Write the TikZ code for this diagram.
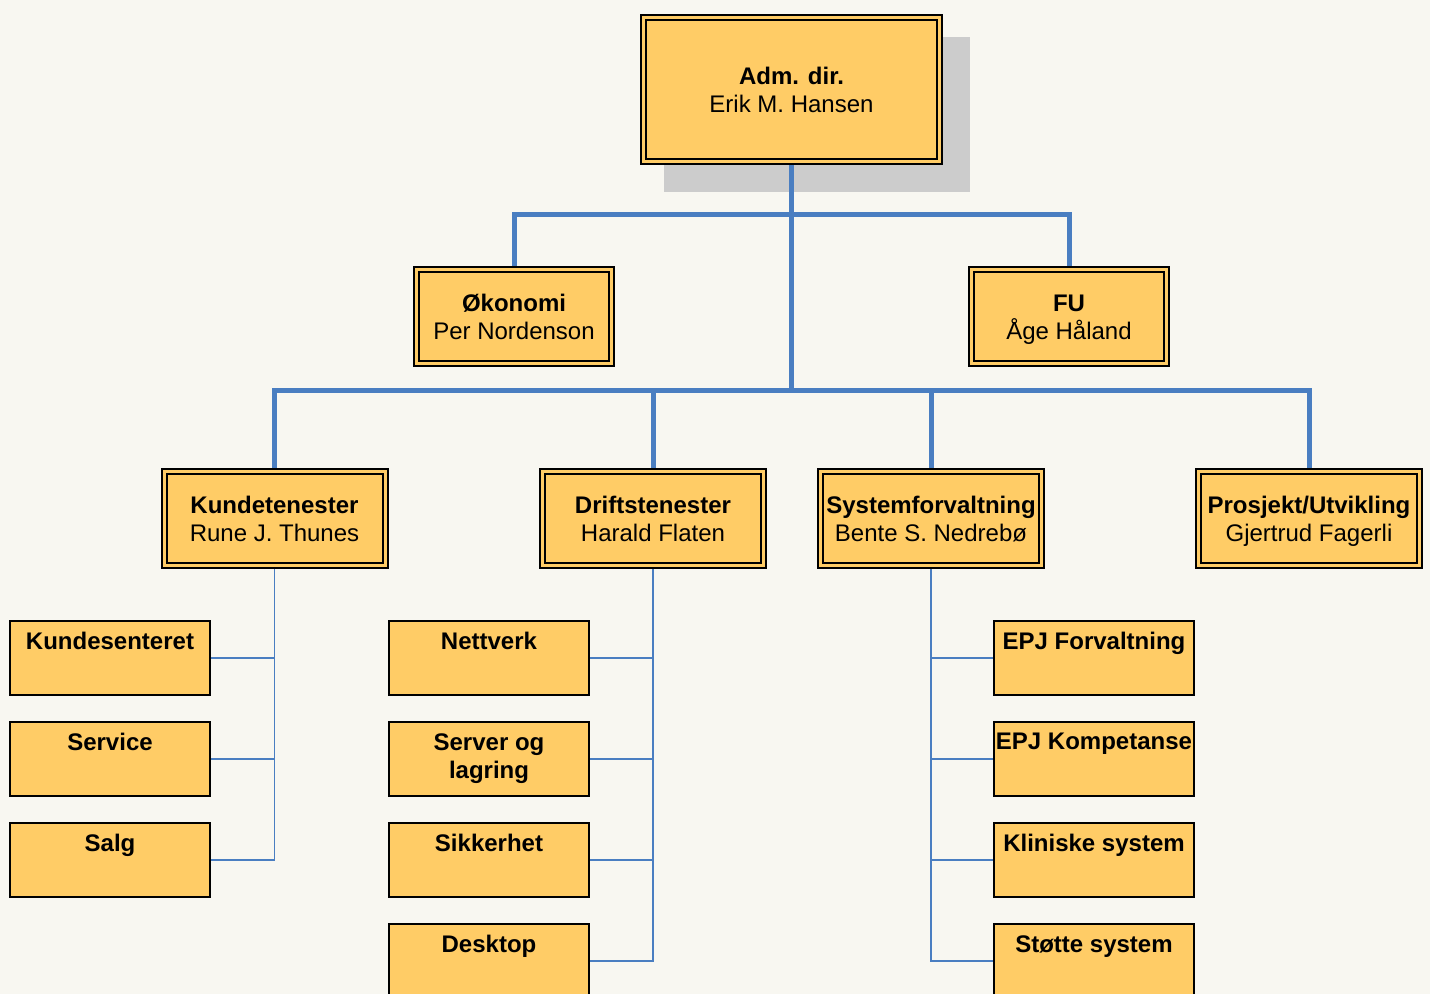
\documentclass[tikz,border=0pt]{standalone}
\usepackage{fontspec}
\setmainfont{Liberation Sans}
\usetikzlibrary{backgrounds}

\definecolor{pagebg}{RGB}{248,247,241}
\definecolor{boxfill}{RGB}{255,204,102}
\definecolor{linkblue}{RGB}{74,126,193}
\definecolor{shadowgray}{RGB}{204,204,204}

% title in bold, name below
\newcommand{\headtext}[2]{\begin{tabular}{@{}c@{}}\rule{0pt}{13.3pt}\textbf{#1}\\\smash{#2}\end{tabular}}

\begin{document}
\begin{tikzpicture}[x=0.5pt,y=-0.5pt,
		every node/.style={font=\fontsize{12}{14}\selectfont, align=center, inner sep=1pt},
		head/.style={draw=black, line width=1pt, double=boxfill, double distance=1.5pt, fill=boxfill},
		chief/.style={head, minimum width=148pt, minimum height=72pt},
		staff/.style={head, minimum width=97.5pt, minimum height=47pt},
		dept/.style={head, minimum width=110.5pt, minimum height=47pt},
		unit/.style={draw=black, line width=1pt, fill=boxfill, minimum width=100pt, minimum height=37pt},
		unittext/.style={anchor=north, inner sep=0pt, yshift=-6pt, font=\fontsize{12}{14}\selectfont\bfseries},
		bus/.style={draw=linkblue, line width=2.5pt},
		twig/.style={draw=linkblue, line width=0.75pt}]
		\useasboundingbox (0,0) rectangle (1430,994);
		% top
		\node [chief] (admdir) at (791.5,89.5) {\headtext{Adm. dir.}{Erik M. Hansen}};
		% staff
		\node [staff] (okonomi) at (514,316.5) {\headtext{Økonomi}{Per Nordenson}};
		\node [staff] (fu) at (1069,316.5) {\headtext{FU}{Åge Håland}};
		% departments
		\node [dept] (kunde) at (274.5,518.5) {\headtext{Kundetenester}{Rune J. Thunes}};
		\node [dept] (drift) at (653,518.5) {\headtext{Driftstenester}{Harald Flaten}};
		\node [dept] (system) at (931,518.5) {\headtext{Systemforvaltning}{Bente S. Nedrebø}};
		\node [dept] (prosjekt) at (1309,518.5) {\headtext{Prosjekt/Utvikling}{Gjertrud Fagerli}};
		% units
		\node [unit, label={[unittext]north:Kundesenteret}] (kundesenter) at (110,658) {};
		\node [unit, label={[unittext]north:Service}] (service) at (110,759) {};
		\node [unit, label={[unittext]north:Salg}] (salg) at (110,860) {};
		\node [unit, label={[unittext]north:Nettverk}] (nettverk) at (489,658) {};
		\node [unit, label={[unittext]north:{Server og\\lagring}}] (server) at (489,759) {};
		\node [unit, label={[unittext]north:Sikkerhet}] (sikkerhet) at (489,860) {};
		\node [unit, label={[unittext]north:Desktop}] (desktop) at (489,961) {};
		\node [unit, label={[unittext]north:EPJ Forvaltning}] (epjforv) at (1094,658) {};
		\node [unit, label={[unittext]north:EPJ Kompetanse}] (epjkomp) at (1094,759) {};
		\node [unit, label={[unittext]north:Kliniske system}] (klinisk) at (1094,860) {};
		\node [unit, label={[unittext]north:Støtte system}] (stotte) at (1094,961) {};
		\begin{scope}[on background layer]
			\fill [pagebg] (0,0) rectangle (1430,994);
			\fill [shadowgray] ([shift={(21.5,20.5)}]admdir.north west) rectangle ([shift={(29.5,29.5)}]admdir.south east);
			% thick lines
			\coordinate (hub2) at (admdir.south |- 0,215);
			\coordinate (hub3) at (admdir.south |- 0,391);
			\draw [bus] (admdir.south) -- (hub3);
			\draw [bus] (okonomi.north) |- (hub2) -| (fu.north);
			\draw [bus] (kunde.north) |- (hub3) -| (prosjekt.north);
			\draw [bus] (hub3) -| (drift.north);
			\draw [bus] (hub3) -| (system.north);
			% thin lines
			\draw [twig] (kunde.south) |- (salg.east);
			\draw [twig] (kundesenter.east) -- (kundesenter.east -| kunde.south);
			\draw [twig] (service.east) -- (service.east -| kunde.south);
			\draw [twig] (drift.south) |- (desktop.east);
			\draw [twig] (nettverk.east) -- (nettverk.east -| drift.south);
			\draw [twig] (server.east) -- (server.east -| drift.south);
			\draw [twig] (sikkerhet.east) -- (sikkerhet.east -| drift.south);
			\draw [twig] (system.south) |- (stotte.west);
			\draw [twig] (epjforv.west) -- (epjforv.west -| system.south);
			\draw [twig] (epjkomp.west) -- (epjkomp.west -| system.south);
			\draw [twig] (klinisk.west) -- (klinisk.west -| system.south);
		\end{scope}
	\end{tikzpicture}
\end{document}
